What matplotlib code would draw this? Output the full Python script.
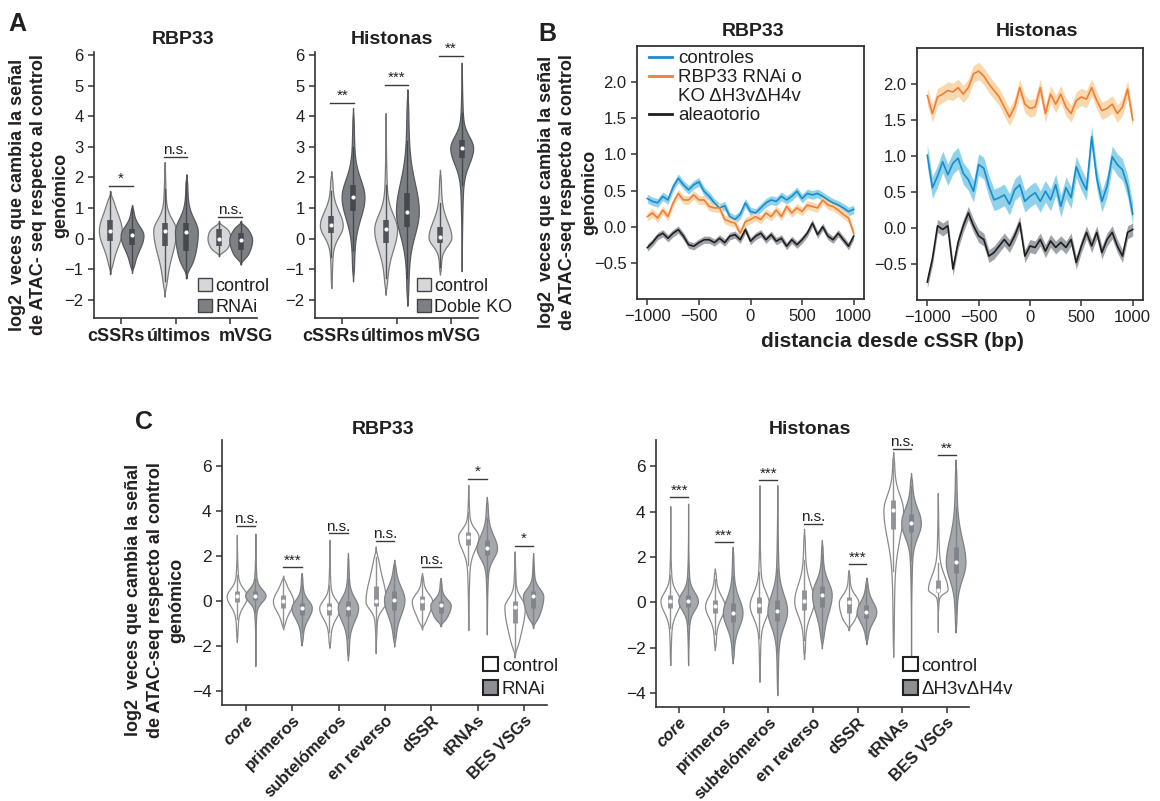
import numpy as np
import matplotlib
matplotlib.use('Agg')
import matplotlib.pyplot as plt
from matplotlib.patches import Patch
from matplotlib.lines import Line2D
from matplotlib.transforms import ScaledTranslation

plt.rcParams['font.family'] = ['Liberation Sans', 'DejaVu Sans']
plt.rcParams['text.color'] = '#231f20'
plt.rcParams['axes.labelcolor'] = '#231f20'
plt.rcParams['xtick.color'] = '#231f20'
plt.rcParams['ytick.color'] = '#231f20'

# ---- panel A: violins (min, q1, median, q3, max) ----
a_groups = ['cSSRs', 'últimos', 'mVSG']
a_rbp_ctrl = [[-1.15, -0.09, 0.26, 0.62, 1.55],
              [-1.90, -0.25, 0.26, 0.50, 2.50],
              [-0.58, -0.25, 0.00, 0.30, 0.57]]
a_rbp_rnai = [[-1.13, -0.20, 0.10, 0.30, 1.10],
              [-1.30, -0.40, 0.22, 0.50, 2.10],
              [-0.85, -0.36, -0.04, 0.18, 0.57]]
a_rbp_sig = ['*', 'n.s.', 'n.s.']
a_rbp_sig_y = [1.72, 2.67, 0.70]

a_his_ctrl = [[-1.62, 0.19, 0.43, 0.73, 2.20],
              [-1.84, -0.14, 0.30, 0.62, 4.10],
              [-1.18, -0.14, 0.04, 0.38, 2.25]]
a_his_ko = [[-1.40, 0.90, 1.35, 1.74, 4.27],
            [-2.20, 0.38, 0.88, 1.50, 4.88],
            [-1.07, 2.62, 2.96, 3.21, 5.75]]
a_his_sig = ['**', '***', '**']
a_his_sig_y = [4.44, 5.03, 5.98]

# ---- panel B: mean profiles around cSSRs ----
b_dist = np.arange(-1000, 1001, 50)
b_rbp_ctrl = [0.39, 0.35, 0.33, 0.42, 0.37, 0.55, 0.67, 0.58, 0.51, 0.58, 0.62,
              0.49, 0.42, 0.33, 0.26, 0.29, 0.14, 0.10, 0.17, 0.33, 0.21,
              0.19, 0.26, 0.33, 0.37, 0.35, 0.42, 0.37, 0.42, 0.49, 0.39,
              0.46, 0.44, 0.46, 0.42, 0.37, 0.33, 0.30, 0.26, 0.21, 0.24]
b_rbp_kd = [0.14, 0.19, 0.12, 0.23, 0.14, 0.33, 0.46, 0.37, 0.37, 0.44, 0.37,
            0.37, 0.28, 0.26, 0.26, 0.10, 0.07, 0.05, -0.09, 0.07, 0.10,
            0.14, 0.10, 0.19, 0.14, 0.23, 0.14, 0.28, 0.19, 0.26, 0.21,
            0.30, 0.28, 0.26, 0.37, 0.30, 0.28, 0.23, 0.17, 0.12, -0.09]
b_rbp_rand = [-0.29, -0.22, -0.13, -0.09, -0.16, -0.09, -0.04, -0.13, -0.25, -0.27, -0.22,
              -0.18, -0.18, -0.22, -0.16, -0.22, -0.13, -0.11, -0.18, -0.04, -0.20,
              -0.13, -0.09, -0.18, -0.11, -0.20, -0.16, -0.27, -0.18, -0.25, -0.18,
              -0.09, 0.05, -0.11, 0.00, -0.13, -0.18, -0.09, -0.18, -0.27, -0.13]
b_his_ctrl = [1.01, 0.56, 0.72, 0.92, 0.74, 0.90, 0.97, 0.76, 0.67, 0.51, 0.88,
              0.83, 0.58, 0.39, 0.42, 0.46, 0.33, 0.53, 0.60, 0.37, 0.44,
              0.49, 0.37, 0.51, 0.39, 0.60, 0.30, 0.56, 0.42, 0.85, 0.67,
              0.53, 1.27, 0.69, 0.37, 0.58, 0.99, 0.88, 0.81, 0.58, 0.19]
b_his_ko = [1.84, 1.59, 1.82, 1.86, 1.91, 1.89, 1.95, 1.86, 1.95, 2.14, 2.18,
            2.11, 2.00, 1.91, 1.82, 1.68, 1.54, 1.68, 1.95, 1.72, 1.66,
            1.68, 1.95, 1.59, 1.86, 1.72, 1.86, 1.68, 1.59, 1.77, 1.82,
            1.79, 1.95, 1.77, 1.63, 1.66, 1.72, 1.59, 1.68, 1.93, 1.50]
b_his_rand = [-0.75, -0.43, 0.03, -0.02, 0.03, -0.57, -0.20, 0.03, 0.21, 0.03, -0.11,
              -0.16, -0.39, -0.34, -0.25, -0.16, -0.25, -0.11, 0.07, -0.39, -0.25,
              -0.27, -0.16, -0.32, -0.18, -0.27, -0.20, -0.27, -0.16, -0.48, -0.25,
              -0.06, -0.25, -0.06, -0.34, -0.16, -0.06, -0.25, -0.39, -0.06, -0.02]
# half width of the shaded error band
b_rbp_err = [0.06, 0.06, 0.05]
b_his_err = [0.15, 0.12, 0.09]

# ---- panel C: violins by genomic region ----
c_groups = ['core', 'primeros', 'subtelómeros', 'en reverso', 'dSSR', 'tRNAs', 'BES VSGs']
c_rbp_ctrl = [[-1.81, -0.05, 0.22, 0.44, 2.94],
              [-1.25, -0.29, 0.00, 0.29, 1.13],
              [-2.06, -0.59, -0.30, -0.07, 2.72],
              [-2.31, -0.22, 0.00, 0.66, 2.43],
              [-1.25, -0.37, 0.00, 0.22, 1.25],
              [-1.28, 2.50, 2.87, 3.09, 5.15],
              [-2.50, -0.96, -0.25, 0.00, 2.21]]
c_rbp_rnai = [[-2.87, 0.07, 0.25, 0.44, 3.00],
              [-1.96, -0.59, -0.29, -0.07, 1.25],
              [-2.62, -0.66, -0.29, 0.00, 2.13],
              [-2.01, -0.37, 0.07, 0.44, 1.84],
              [-1.10, -0.51, -0.18, 0.00, 1.03],
              [-1.47, 2.06, 2.35, 2.72, 4.63],
              [-1.18, -0.29, 0.22, 0.44, 2.13]]
c_rbp_sig = ['n.s.', '***', 'n.s.', 'n.s.', 'n.s.', '*', '*']
c_rbp_sig_y = [3.34, 1.51, 3.01, 2.68, 1.51, 5.43, 2.47]

c_his_ctrl = [[-2.76, -0.26, 0.06, 0.32, 4.24],
              [-2.10, -0.48, -0.16, 0.13, 1.50],
              [-3.49, -0.48, -0.12, 0.25, 5.16],
              [-2.49, -0.34, 0.06, 0.54, 3.25],
              [-1.22, -0.48, 0.00, 0.22, 1.42],
              [-2.39, 3.25, 4.06, 4.50, 6.63],
              [-1.29, 0.47, 0.57, 0.98, 4.82]]
c_his_ko = [[-2.76, -0.19, 0.07, 0.32, 4.35],
            [-2.68, -0.85, -0.45, -0.04, 2.45],
            [-4.08, -0.81, -0.37, 0.10, 5.16],
            [-2.02, -0.19, 0.35, 0.72, 2.74],
            [-1.83, -0.70, -0.41, -0.12, 1.10],
            [-2.39, 3.10, 3.50, 3.91, 5.70],
            [-1.32, 1.28, 1.76, 2.45, 6.29]]
c_his_sig = ['***', '***', '***', 'n.s.', '***', 'n.s.', '**']
c_his_sig_y = [4.63, 2.64, 5.38, 3.47, 1.69, 6.77, 6.48]

ylab_a = ['log2  veces que cambia la señal', 'de ATAC- seq respecto al control', 'genómico']
ylab = ['log2  veces que cambia la señal', 'de ATAC-seq respecto al control', 'genómico']

W, H = 1160, 801
fig = plt.figure(figsize=(W / 100, H / 100), dpi=100)


def box_px(l, t, r, b):
    return [l / W, 1 - b / H, (r - l) / W, (b - t) / H]


def vertical_label(lines, xc, yc, step=21.5):
    # one text per line, so each keeps its own tight box
    n = len(lines)
    for j, line in enumerate(lines):
        x = xc + (j - (n - 1) / 2) * step
        fig.text(x / W, 1 - yc / H, line, rotation=90, ha='center', va='center',
                 fontsize=13, fontweight='bold')


def draw_violin(ax, pos, st, face, edge, inner, hw, boxw):
    lo, q1, med, q3, hi = st
    y = np.linspace(lo, hi, 400)
    s_lo = max((med - q1) / 0.674, 0.12)
    s_hi = max((q3 - med) / 0.674, 0.12)
    s = np.where(y < med, s_lo, s_hi)
    z = (y - med) / s
    dens = 0.84 * np.exp(-0.5 * z ** 2) + 0.16 * np.exp(-0.5 * (z / 3) ** 2)
    d_end = np.minimum(y - lo, hi - y)
    dens = dens * (1 - np.exp(-(d_end / (0.4 * s)) ** 2))
    dens = dens / dens.max()
    ax.fill_betweenx(y, pos - hw * dens, pos + hw * dens, facecolor=face,
                     edgecolor=edge, lw=0.9, zorder=2)
    iqr = q3 - q1
    ax.plot([pos, pos], [max(lo, q1 - 1.5 * iqr), min(hi, q3 + 1.5 * iqr)],
            color=inner, lw=1.0, zorder=3)
    ax.plot([pos, pos], [q1, q3], color=inner, lw=boxw, solid_capstyle='butt', zorder=3)
    ax.scatter([pos], [med], s=9, color='white', zorder=4, linewidths=0)


def sig_marks(ax, labels, ys, off, fs):
    for i, (lab, yv) in enumerate(zip(labels, ys)):
        ax.plot([i - off, i + off], [yv, yv], color='#3a3a3a', lw=1.0, clip_on=False)
        ax.annotate(lab, (i, yv), xytext=(0, 2), textcoords='offset points',
                    ha='center', va='baseline', fontsize=fs, annotation_clip=False)


def style_open(ax):
    for sp in ['top', 'right']:
        ax.spines[sp].set_visible(False)
    for sp in ['left', 'bottom']:
        ax.spines[sp].set_linewidth(1.2)
        ax.spines[sp].set_color('#333333')
    ax.tick_params(direction='out', length=4, width=1.1, color='#333333')


# ---- A ----
a_specs = [(box_px(94, 52, 257, 318), a_rbp_ctrl, a_rbp_rnai, a_rbp_sig, a_rbp_sig_y,
            'RNAi', '#7d8185', 183, [-5, 3, 16]),
           (box_px(315, 52, 478, 318), a_his_ctrl, a_his_ko, a_his_sig, a_his_sig_y,
            'Doble KO', '#7c8084', 392, [-11, -4, 3])]
leg_x = [198, 417]
for k, (rect, ctrl, trt, sig, sig_y, trt_name, trt_col, tx, shifts) in enumerate(a_specs):
    ax = fig.add_axes(rect)
    for i in range(len(a_groups)):
        draw_violin(ax, i - 0.2, ctrl[i], '#d5d7da', '#7a7a7a', '#505458', 0.21, 4.0)
        draw_violin(ax, i + 0.2, trt[i], trt_col, '#55595d', '#45494d', 0.21, 4.0)
    sig_marks(ax, sig, sig_y, 0.22, 11)
    ax.set_xlim(-0.5, 2.5)
    ax.set_ylim(-2.6, 6.1)
    ax.set_yticks(range(-2, 7))
    ax.set_xticks(range(3))
    ax.set_xticklabels([])
    # category names drawn by hand so the crowded ones can sit apart
    for i, (name, dx) in enumerate(zip(a_groups, shifts)):
        tr = ax.get_xaxis_transform() + ScaledTranslation(dx / 100, -18 / 100, fig.dpi_scale_trans)
        ax.text(i, 0, name, transform=tr, ha='center', va='center', fontsize=13,
                fontweight='bold')
    ax.tick_params(axis='y', labelsize=12)
    style_open(ax)
    handles = [Patch(facecolor='#d5d7da', edgecolor='#444444', lw=1.0),
               Patch(facecolor=trt_col, edgecolor='#444444', lw=1.0)]
    ax.legend(handles, ['control', trt_name], loc='upper left',
              bbox_to_anchor=(leg_x[k] / W, 1 - 278 / H), bbox_transform=fig.transFigure,
              frameon=False, fontsize=13, borderpad=0, borderaxespad=0,
              handlelength=0.75, handleheight=0.75, handletextpad=0.2, labelspacing=0.2)
    fig.text(tx / W, 1 - 40 / H, 'RBP33' if k == 0 else 'Histonas', ha='center',
             va='center', fontsize=14, fontweight='bold')

fig.text(8 / W, 1 - 12 / H, 'A', ha='left', va='top', fontsize=18, fontweight='bold')
vertical_label(ylab_a, 39, 195)

# ---- B ----
c_blue, c_blue_band = '#1a8ccc', '#8fd2ea'
c_orange, c_orange_band = '#f07d3a', '#f8d9ad'
c_black, c_black_band = '#1e1e1e', '#9ea3aa'
b_specs = [(box_px(637, 46, 864, 299), [b_rbp_ctrl, b_rbp_kd, b_rbp_rand], b_rbp_err,
            'RBP33', 753),
           (box_px(917, 48, 1143, 300), [b_his_ctrl, b_his_ko, b_his_rand], b_his_err,
            'Histonas', 1037)]
for k, (rect, series, errs, title, tx) in enumerate(b_specs):
    ax = fig.add_axes(rect)
    cols = [(c_blue, c_blue_band), (c_orange, c_orange_band), (c_black, c_black_band)]
    for vals, e, (lc, bc) in zip(series, errs, cols):
        v = np.array(vals)
        ax.fill_between(b_dist, v - e, v + e, color=bc, lw=0, zorder=1)
        ax.plot(b_dist, v, color=lc, lw=1.2, zorder=2)
    ax.set_xlim(-1100, 1100)
    ax.set_ylim(-1.0, 2.5)
    ax.set_xticks([-1000, -500, 0, 500, 1000])
    ax.set_yticks([-0.5, 0.0, 0.5, 1.0, 1.5, 2.0])
    ax.set_yticklabels(['−0.5', '0.0', '0.5', '1.0', '1.5', '2.0'])
    ax.tick_params(direction='out', length=4, width=1.1, labelsize=12, color='#333333')
    for sp in ax.spines.values():
        sp.set_linewidth(1.3)
        sp.set_color('#333333')
    fig.text(tx / W, 1 - 31 / H, title, ha='center', va='center', fontsize=14,
             fontweight='bold')
    if k == 0:
        handles = [Line2D([], [], color=c_blue, lw=2), Line2D([], [], color=c_orange, lw=2),
                   Line2D([], [], color='none'), Line2D([], [], color=c_black, lw=2)]
        ax.legend(handles, ['controles', 'RBP33 RNAi o', 'KO ΔH3vΔH4v', 'aleaotorio'],
                  loc='upper left', bbox_to_anchor=(649 / W, 1 - 50 / H),
                  bbox_transform=fig.transFigure, frameon=False, fontsize=13.5,
                  handlelength=1.2, handletextpad=0.35, labelspacing=0.1,
                  borderaxespad=0, borderpad=0)

fig.text(538 / W, 1 - 22 / H, 'B', ha='left', va='top', fontsize=18, fontweight='bold')
vertical_label(ylab, 568, 192)
fig.text(892 / W, 1 - 342 / H, 'distancia desde cSSR (bp)', ha='center', va='center',
         fontsize=15, fontweight='bold')

# ---- C ----
c_specs = [(box_px(222, 440, 547, 705), c_rbp_ctrl, c_rbp_rnai, c_rbp_sig, c_rbp_sig_y,
            'RNAi', 'RBP33', 383, 483),
           (box_px(656, 440, 969, 707), c_his_ctrl, c_his_ko, c_his_sig, c_his_sig_y,
            'ΔH3vΔH4v', 'Histonas', 810, 903)]
for rect, ctrl, trt, sig, sig_y, trt_name, title, tx, lx in c_specs:
    ax = fig.add_axes(rect)
    for i in range(len(c_groups)):
        draw_violin(ax, i - 0.2, ctrl[i], 'white', '#8a8a8a', '#8f9397', 0.22, 3.5)
        draw_violin(ax, i + 0.2, trt[i], '#a4a8ac', '#7e8286', '#808488', 0.22, 3.5)
    sig_marks(ax, sig, sig_y, 0.2, 11)
    ax.set_xlim(-0.52, 6.5)
    ax.set_ylim(-4.6, 7.15)
    ax.set_yticks([-4, -2, 0, 2, 4, 6])
    ax.set_xticks(range(len(c_groups)))
    ax.set_xticklabels(c_groups, fontsize=12, fontweight='bold', rotation=45,
                       ha='right', rotation_mode='anchor')
    ax.get_xticklabels()[0].set_fontstyle('italic')
    ax.tick_params(axis='y', labelsize=12.5)
    style_open(ax)
    ax.tick_params(axis='x', pad=1.5)
    handles = [Patch(facecolor='white', edgecolor='#222222', lw=1.5),
               Patch(facecolor='#8c9094', edgecolor='#222222', lw=1.5)]
    ax.legend(handles, ['control', trt_name], loc='upper left',
              bbox_to_anchor=(lx / W, 1 - 657 / H), bbox_transform=fig.transFigure,
              frameon=False, fontsize=13.5, borderpad=0, borderaxespad=0,
              handlelength=0.8, handleheight=0.8, handletextpad=0.2, labelspacing=0.3)
    fig.text(tx / W, 1 - 430 / H, title, ha='center', va='center', fontsize=14,
             fontweight='bold')

fig.text(135 / W, 1 - 410 / H, 'C', ha='left', va='top', fontsize=18, fontweight='bold')
vertical_label(ylab, 155, 600)

fig.savefig('out.png', dpi=100)
